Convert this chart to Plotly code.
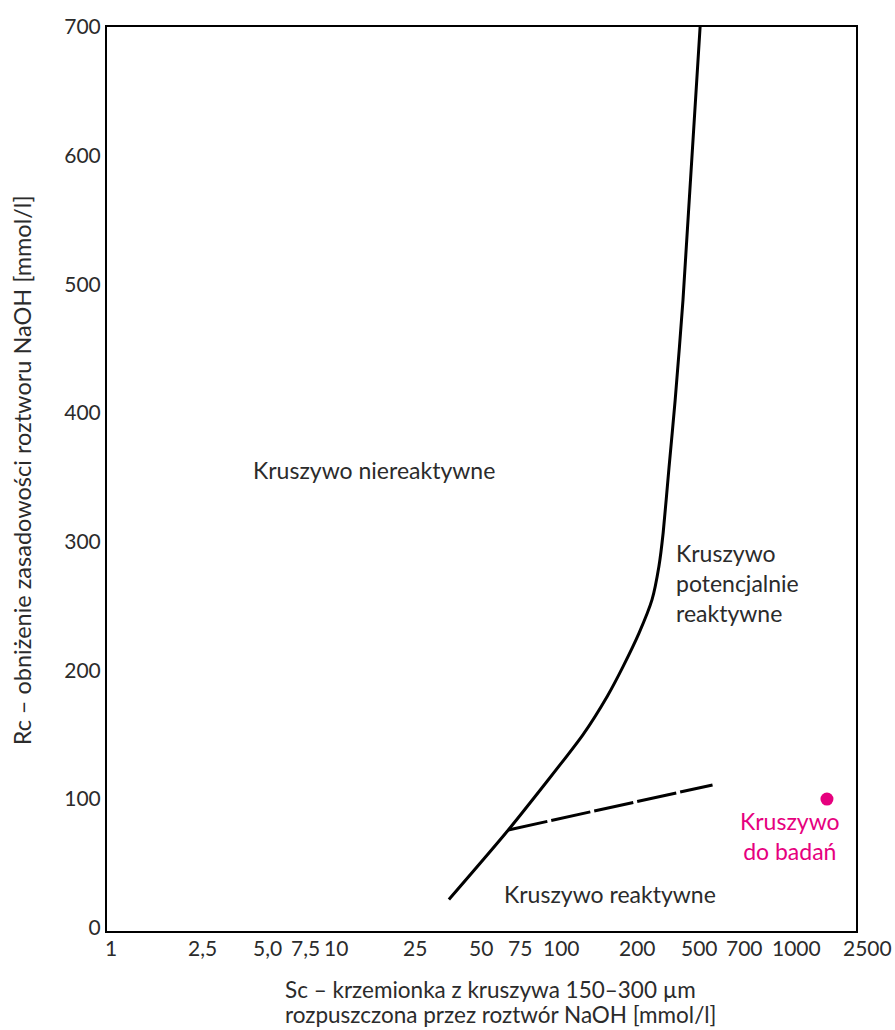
import math
import plotly.graph_objects as go

# Boundary curve between non-reactive and potentially reactive aggregate
boundary_sc = [33, 61, 132, 170, 200, 236, 270, 290, 303, 322, 343, 372, 444]
boundary_rc = [22, 76, 150, 180, 203, 229, 255, 281, 307, 358, 410, 488, 700]

# Lower branch separating reactive aggregate
branch_sc = [61, 505]
branch_rc = [76, 111]

# Tested aggregate sample
sample_sc = [1650]
sample_rc = [100]

x_tick_vals = [1, 2.5, 5, 7.5, 10, 25, 50, 75, 100, 200, 500, 700, 1000, 2500]
x_tick_text = ["1", "2,5", "5,0", "7,5", "10", "25", "50", "75", "100", "200", "500", "700", "1000", "2500"]
y_tick_vals = [0, 100, 200, 300, 400, 500, 600, 700]

# horizontal pixel nudges for x tick labels, so neighbours do not collide
x_label_nudge = {"2,5": 3, "5,0": 1, "10": 2, "25": -7, "50": -8, "75": -8,
                 "100": 5, "200": 14, "500": -12, "1000": 18}

FONT = "Lato"
TEXT = "#2b2b2b"
PINK = "#e6007e"
TICK_FS = 21
LABEL_FS = 23
TITLE_FS = 22.5

X_RANGE = [-0.018, 3.348]

fig = go.Figure()
fig.add_trace(go.Scatter(x=boundary_sc, y=boundary_rc, mode="lines",
                         line=dict(color="black", width=3, shape="spline", smoothing=0.6),
                         showlegend=False))
fig.add_trace(go.Scatter(x=branch_sc, y=branch_rc, mode="lines",
                         line=dict(color="black", width=3, dash="40px,4px"), showlegend=False))
fig.add_trace(go.Scatter(x=sample_sc, y=sample_rc, mode="markers",
                         marker=dict(color=PINK, size=13), showlegend=False))

# region labels
annots = [
    dict(x=1.18, y=356, text="Kruszywo niereaktywne", xanchor="center"),
    dict(x=2.532, y=268, text="Kruszywo<br>potencjalnie<br>reaktywne", xanchor="left", align="left"),
    dict(x=2.243, y=26, text="Kruszywo reaktywne", xanchor="center"),
]
for a in annots:
    fig.add_annotation(xref="x", yref="y", showarrow=False, yanchor="middle",
                       font=dict(family=FONT, size=LABEL_FS, color=TEXT), **a)

fig.add_annotation(xref="x", yref="y", x=3.05, y=71, text="Kruszywo<br>do badań",
                   showarrow=False, align="center", font=dict(family=FONT, size=LABEL_FS, color=PINK))

# x tick labels placed along the log scale (2500 lies just past the frame)
for val, txt in zip(x_tick_vals, x_tick_text):
    frac = (math.log10(val) - X_RANGE[0]) / (X_RANGE[1] - X_RANGE[0])
    fig.add_annotation(xref="paper", yref="paper", x=frac, y=0, yshift=-16,
                       xshift=x_label_nudge.get(txt, 0), text=txt, showarrow=False,
                       xanchor="center", yanchor="middle",
                       font=dict(family=FONT, size=TICK_FS, color=TEXT))

# axis titles
fig.add_annotation(xref="paper", yref="paper", x=-0.113, y=0.51, textangle=-90,
                   text="Rc – obniżenie zasadowości roztworu NaOH [mmol/l]", showarrow=False,
                   xanchor="center", yanchor="middle",
                   font=dict(family=FONT, size=23.5, color=TEXT))
fig.add_annotation(xref="paper", yref="paper", x=0.235, y=0, yshift=-58,
                   text="Sc – krzemionka z kruszywa 150–300 µm", showarrow=False,
                   xanchor="left", yanchor="middle",
                   font=dict(family=FONT, size=TITLE_FS, color=TEXT))
fig.add_annotation(xref="paper", yref="paper", x=0.235, y=0, yshift=-83,
                   text="rozpuszczona przez roztwór NaOH [mmol/l]", showarrow=False,
                   xanchor="left", yanchor="middle",
                   font=dict(family=FONT, size=TITLE_FS, color=TEXT))

fig.update_layout(
    width=895, height=1030,
    margin=dict(l=107, r=39, t=27, b=99),
    paper_bgcolor="white", plot_bgcolor="white",
    font=dict(family=FONT, size=TICK_FS, color=TEXT),
    xaxis=dict(type="log", range=X_RANGE, showticklabels=False,
               showgrid=False, zeroline=False, showline=True, mirror=True,
               linecolor="black", linewidth=2, ticks=""),
    yaxis=dict(range=[-2.5, 700], tickvals=y_tick_vals,
               showgrid=False, zeroline=False, showline=True, mirror=True,
               linecolor="black", linewidth=2, ticks=""),
)

fig.write_html("out.html")
